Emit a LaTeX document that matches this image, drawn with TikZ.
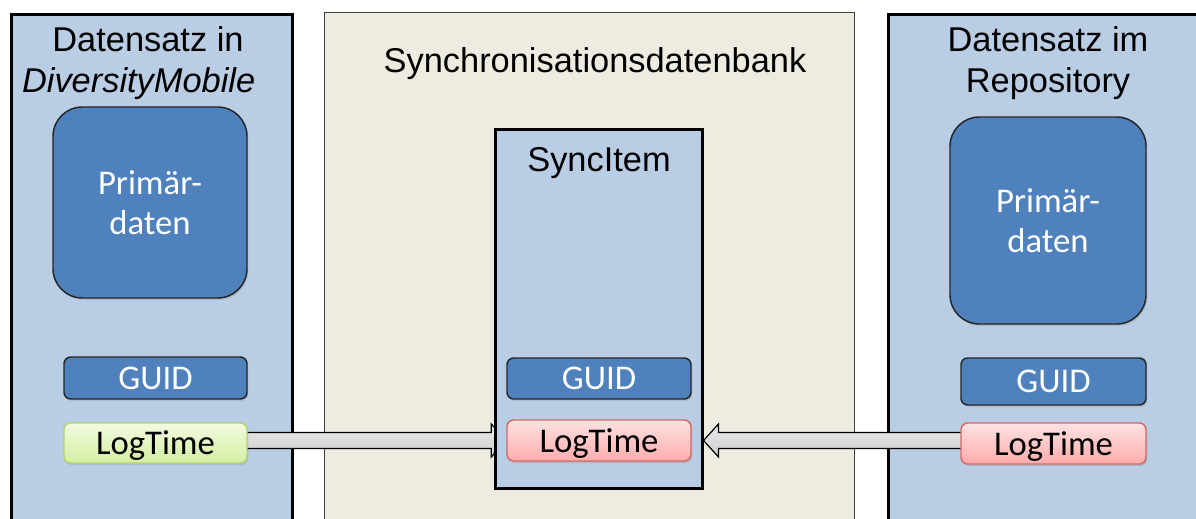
\documentclass[tikz,border=0pt]{standalone}
\usepackage{fontspec}
\setmainfont{Liberation Sans}
\newfontfamily\labelfont{Carlito}
\usetikzlibrary{calc,shadows}
\definecolor{panelblue}{RGB}{185,205,229}
\definecolor{boxblue}{RGB}{79,129,189}
\definecolor{dbbeige}{RGB}{238,236,225}
\definecolor{redtop}{RGB}{255,226,226}
\definecolor{redbottom}{RGB}{255,172,172}
\definecolor{redline}{RGB}{214,104,102}
\definecolor{greentop}{RGB}{242,251,226}
\definecolor{greenbottom}{RGB}{212,238,160}
\definecolor{greenline}{RGB}{178,214,108}
\definecolor{arrowtop}{RGB}{236,236,236}
\definecolor{arrowbottom}{RGB}{204,204,204}
\pgfdeclarelayer{panels}
\pgfdeclarelayer{arrows}
\pgfsetlayers{panels,arrows,main}

\begin{document}
\begin{tikzpicture}[x=0.75pt,y=-0.75pt,
  panel/.style={draw=black,line width=2.25pt,fill=panelblue,anchor=north west,inner sep=0pt},
  title/.style={align=center,font=\fontsize{25.8}{30.5}\selectfont,inner sep=0pt},
  primbox/.style={draw=black!85,line width=1.1pt,fill=boxblue,rounded corners=22pt,
    text=white,align=center,font=\labelfont\fontsize{26}{30}\selectfont,
    drop shadow={opacity=0.25,shadow xshift=1pt,shadow yshift=-1.5pt}},
  fieldbox/.style={line width=1.1pt,rounded corners=5pt,text depth=0pt,
    font=\labelfont\fontsize{26}{30}\selectfont,
    drop shadow={opacity=0.25,shadow xshift=1pt,shadow yshift=-1.5pt}},
  guidbox/.style={fieldbox,draw=black!85,fill=boxblue,text=white},
  newtime/.style={fieldbox,draw=redline,top color=redtop,bottom color=redbottom},
  oldtime/.style={fieldbox,draw=greenline,top color=greentop,bottom color=greenbottom},
  blockarrow/.style={draw=black,line width=0.9pt,top color=arrowtop,bottom color=arrowbottom}]
  \useasboundingbox (0,0) rectangle (1196,518);

  \begin{pgfonlayer}{panels}
    \node[panel,minimum width=210.75pt,minimum height=420pt] (mobile) at (9.5,12.5) {};
    \node[panel,draw=black!75,line width=0.8pt,fill=dbbeige,minimum width=397.5pt,minimum height=420pt] (syncdb) at (323.5,11.5) {};
    \node[panel,minimum width=272.25pt,minimum height=420pt] (repo) at (886.5,12.5) {};
  \end{pgfonlayer}

  \node[title] (mobiletitle) at (148,63) {Datensatz in\\\textit{DiversityMobile}\hspace*{14pt}};
  \node[title] (syncdbtitle) at (595,64) {Synchronisationsdatenbank};
  \node[title] (repotitle) at (1048,63) {Datensatz im\\Repository};

  \node[primbox,minimum width=145.5pt,minimum height=143.25pt] (primL) at (150,202.5) {Primär-\\daten};
  \node[primbox,minimum width=147pt,minimum height=155.25pt] (primR) at (1048,220.5) {Primär-\\daten};

  \node[draw=black,line width=2.25pt,fill=panelblue,minimum width=155.25pt,minimum height=269.25pt] (sync) at (598.5,308.5) {};
  \node[title] (synctitle) at (599,163) {SyncItem};

  \node[guidbox,minimum width=137.25pt,minimum height=31.5pt] (guidL) at (155.5,378) {GUID};
  \node[oldtime,minimum width=137.25pt,minimum height=30pt] (ltL) at (155.5,443) {LogTime};
  \node[guidbox,minimum width=138pt,minimum height=30.75pt] (guidS) at (599,378.5) {GUID};
  \node[newtime,minimum width=138pt,minimum height=30.75pt] (ltS) at (599,440.5) {LogTime};
  \node[guidbox,minimum width=138.75pt,minimum height=35.25pt] (guidR) at (1053.5,381.5) {GUID};
  \node[newtime,minimum width=138.75pt,minimum height=30.75pt] (ltR) at (1053.5,443.5) {LogTime};

  \begin{pgfonlayer}{arrows}
    \draw[blockarrow] (ltL.center |- ltS.west) ++(0,-8) -- ($(ltS.west)+(-15,-8)$) -- ++(0,-8.5)
      -- (ltS.west) -- ++(-15,16.5) -- ++(0,-8.5) -- ($(ltL.center |- ltS.west)+(0,8)$) -- cycle;
    \draw[blockarrow] (ltR.center |- ltS.west) ++(0,-8) -- ($(sync.east |- ltS.west)+(15,-8)$) -- ++(0,-8.5)
      -- (sync.east |- ltS.west) -- ++(15,16.5) -- ++(0,-8.5) -- ($(ltR.center |- ltS.west)+(0,8)$) -- cycle;
  \end{pgfonlayer}
\end{tikzpicture}
\end{document}
